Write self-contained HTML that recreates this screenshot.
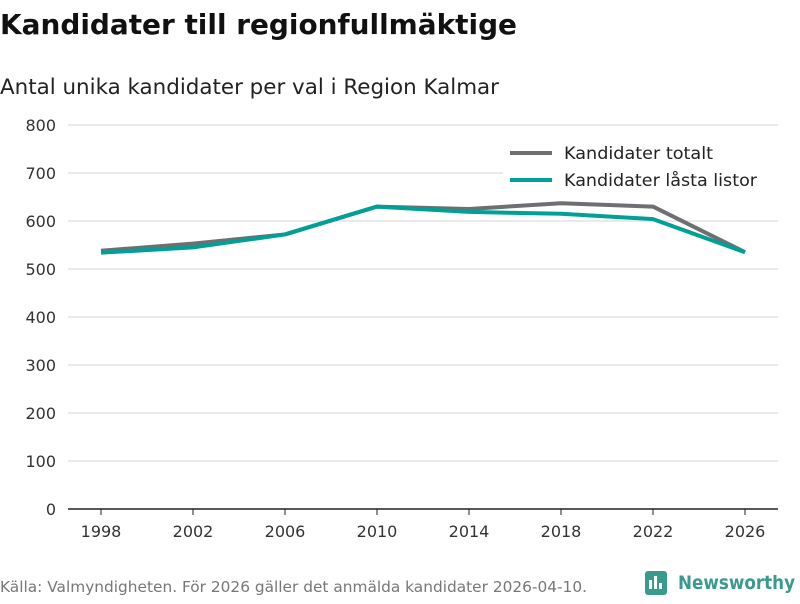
<!DOCTYPE html>
<html><head><meta charset="utf-8"><style>
body{margin:0;background:#fff;font-family:"DejaVu Sans","Liberation Sans",sans-serif;}
svg text{font-family:"DejaVu Sans","Liberation Sans",sans-serif;}
</style></head><body>
<svg id="c" width="800" height="600" xmlns="http://www.w3.org/2000/svg">
<text x="0" y="34" font-size="28" font-weight="bold" fill="#111" textLength="517" lengthAdjust="spacingAndGlyphs">Kandidater till regionfullmäktige</text>
<text x="0" y="94" font-size="21" fill="#222" textLength="499" lengthAdjust="spacingAndGlyphs">Antal unika kandidater per val i Region Kalmar</text>
<g id="grid"></g><g id="lines"></g>
<g>
<rect x="503" y="140" width="275" height="56" fill="#fff"/>
<line x1="510" y1="153" x2="552" y2="153" stroke="#6e6e73" stroke-width="4"/>
<text x="564" y="159" font-size="17" fill="#222" textLength="149" lengthAdjust="spacingAndGlyphs">Kandidater totalt</text>
<line x1="510" y1="180" x2="552" y2="180" stroke="#00a096" stroke-width="4"/>
<text x="564" y="186" font-size="17" fill="#222" textLength="193" lengthAdjust="spacingAndGlyphs">Kandidater låsta listor</text>
</g>
<text x="0" y="592" font-size="15" fill="#777" textLength="587" lengthAdjust="spacingAndGlyphs">Källa: Valmyndigheten. För 2026 gäller det anmälda kandidater 2026-04-10.</text>
<g>
<rect x="645" y="571" width="22" height="24" rx="3" fill="#3a9a8e"/>
<rect x="649" y="580" width="3" height="9" fill="#fff"/><rect x="654" y="576" width="3" height="13" fill="#fff"/><rect x="659" y="583" width="3" height="6" fill="#fff"/>
<text x="678" y="589" font-size="19" font-weight="bold" fill="#3a9a8e" textLength="117" lengthAdjust="spacingAndGlyphs">Newsworthy</text>
</g>
</svg>
<script>
const years=[1998,2002,2006,2010,2014,2018,2022,2026];
const totalt=[538,553,572,630,625,637,630,535];
const lasta=[534,545,572,630,619,615,604,535];
const yTicks=[0,100,200,300,400,500,600,700,800];
const xTicks=[1998,2002,2006,2010,2014,2018,2022,2026];
const NS="http://www.w3.org/2000/svg";
const x=v=>101+(v-1998)*23;
const y=v=>509-v*0.48;
const grid=document.getElementById('grid'),lines=document.getElementById('lines');
function mk(t,a,p){const e=document.createElementNS(NS,t);for(const k in a)e.setAttribute(k,a[k]);p.appendChild(e);return e;}
yTicks.forEach(v=>{
 const l=mk('line',{x1:68,x2:778,y1:y(v),y2:y(v),stroke:v===0?'#222':'#ddd','stroke-width':v===0?1.5:1.2},grid);
 
 
 const t=mk('text',{x:56,y:y(v)+6,'text-anchor':'end','font-size':16,fill:'#333'},grid);t.textContent=v;
 
 
});
xTicks.forEach(v=>{
 const l=mk('line',{x1:x(v),x2:x(v),y1:509,y2:515,stroke:'#222'},grid);
 
 
 const t=mk('text',{x:x(v),y:537,'text-anchor':'middle','font-size':16,fill:'#333'},grid);t.textContent=v;
 
 
});
function line(vals,col,name){
 const p=mk('polyline',{points:vals.map((v,i)=>x(years[i])+','+y(v)).join(' '),fill:'none',stroke:col,'stroke-width':4,'stroke-linejoin':'round'},lines);
 
 
}
line(totalt,'#6e6e73','line-kandidater-totalt');
line(lasta,'#00a096','line-kandidater-lasta-listor');
</script>
</body></html>
